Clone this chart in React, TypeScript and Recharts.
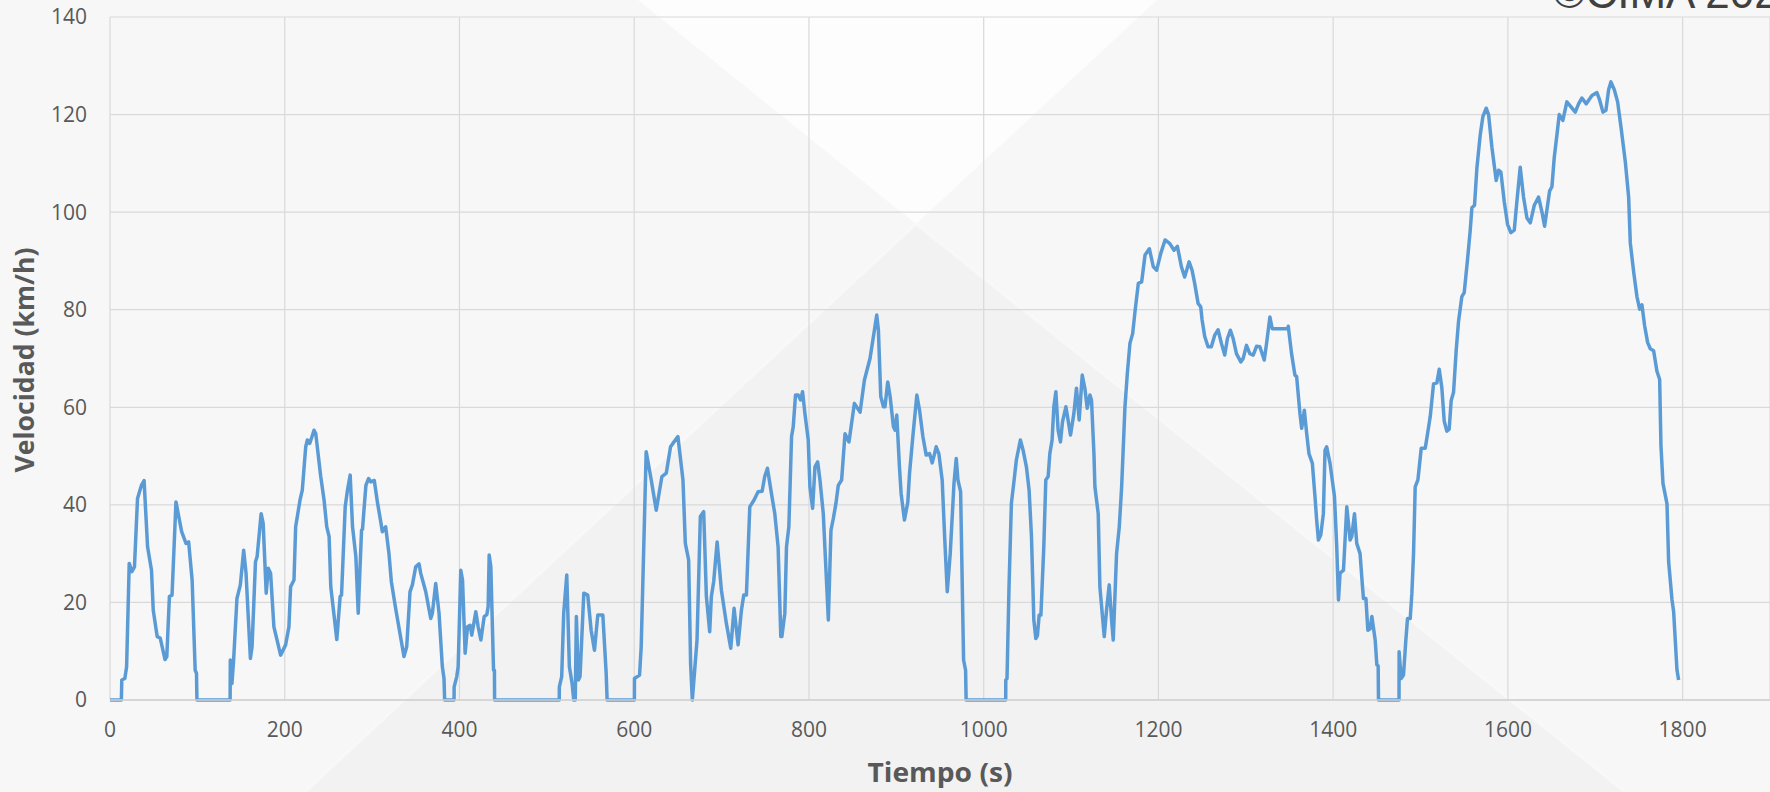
import React from "react";
import { LineChart, Line, XAxis, YAxis, CartesianGrid, Label } from "recharts";

// [tiempo (s), velocidad (km/h)], one array per WLTC phase
const lowPhase: [number, number][] = [
  [0, 0], [13, 0], [13.5, 4.1], [17, 4.4], [19, 6.8], [22, 28], [25, 26.3], [28, 27.3], [31.5, 41.3], [36, 44],
  [39, 45], [43, 31.4], [47.5, 26.6], [49.5, 18.4], [54, 13], [57.5, 12.7], [63, 8.3], [65, 8.9], [68, 21.2],
  [71, 21.5], [75.5, 40.6], [82, 34.5], [87, 32.1], [90, 32.4], [94, 24.6], [97.5, 6.1], [99, 5.5], [99.5, 0],
  [137.5, 0], [137.7, 8.2], [139.6, 3.4], [141.5, 8.2], [145.3, 20.8], [149.2, 23.6], [153, 30.7], [155.7, 26],
  [160.7, 8.5], [162.6, 10.9], [166.5, 28.3], [168.4, 29.4], [173, 38.2], [175.3, 36.2], [178.8, 21.9], [181.1, 27],
  [183.8, 26], [187.6, 15], [195.3, 9.2], [201, 11.3], [204.8, 15], [206.7, 23.2], [210.6, 24.6], [212.5, 35.5],
  [217.5, 41], [220.1, 43], [224, 51.9], [225.9, 53.3], [228.6, 52.6], [230.5, 53.6], [233.5, 55.3], [235.5, 54.6],
  [241.2, 45.8], [245, 41], [248.1, 35.5], [250.8, 33.5], [252.7, 23.2], [259.6, 12.4], [263.4, 21.2], [265, 21.5],
  [269.2, 39.6], [271.8, 43], [274.9, 46.1], [277.6, 35.5], [281.4, 29.4], [284.1, 17.8], [287.9, 34.8], [289, 35],
  [292.9, 44], [296, 45.4], [298.7, 44.7], [302.5, 45], [306.3, 40.3], [310.2, 36.2], [311.7, 34.5], [315.5, 35.5],
  [319.3, 30], [322, 24.3], [326.9, 18.8], [336.5, 8.9], [339.6, 10.9], [343.4, 22.2], [346.1, 23.6], [349.9, 27.3],
  [353.7, 27.9], [355.6, 26], [361.4, 22.2], [367.1, 16.7], [369, 17.8], [372.8, 23.9], [376.6, 17.8], [380.4, 6.8],
  [382.3, 4.4], [383, 0], [393.8, 0], [393.9, 2.7], [396.9, 4.8], [398.5, 6.8], [401.5, 26.6], [403.5, 24.6],
  [406.5, 9.6], [409.2, 15], [412.2, 15.3], [414.1, 13.3], [418.7, 18.1], [421.4, 15], [424.5, 12.3], [428.3, 17.1],
  [431.3, 17.5], [432.8, 19.1], [434, 29.7], [435.9, 27.3], [439, 6.1], [440, 6.1], [440.2, 0], [514.2, 0],
  [514.3, 2.7], [517, 4.8], [519.3, 17.8], [522.8, 25.6], [525.8, 6.8], [528.9, 3.4], [530.8, 0], [532.5, 0],
  [533.8, 17.1], [536.1, 4.1], [538, 4.8], [542.3, 21.9], [546.8, 21.5], [550.7, 14.3], [554.5, 10.2], [558.3, 17.4],
  [564.1, 17.4], [567.9, 5.5], [569, 0],
];

const mediumPhase: [number, number][] = [
  [600.2, 0], [600.3, 4.4], [606.1, 5.1], [608, 10.9], [613.7, 50.9], [619.5, 45.1], [625.2, 38.9], [631.7, 45.8],
  [636.7, 46.5], [641.6, 51.9], [644.3, 52.6], [650, 54], [655.8, 45.1], [658.5, 32.1], [662.3, 28.7], [664.6, 7.2],
  [666.5, 0], [669.2, 6.1], [671.9, 12.3], [675.7, 37.6], [679.5, 38.6], [682.6, 21.2], [686.4, 14], [688.3, 21.2],
  [691, 24.3], [694.9, 32.4], [699.8, 22.5], [705.5, 15.7], [710.5, 10.6], [714.3, 18.8], [718.9, 11.3], [722.7, 18.4],
  [725.4, 21.5], [728.4, 21.5], [732.3, 39.6], [737.2, 41], [741.8, 42.7], [746.4, 42.8], [749.4, 45.8], [752.5, 47.5],
  [757.1, 42.3], [760.9, 38.2], [764.7, 31.4], [767.8, 13], [769, 13], [772.4, 17.8], [774.3, 31.4], [777, 35.5],
  [780.1, 54], [782, 56], [784.6, 62.5], [787.7, 62.5], [790.4, 61.5], [792.7, 63.2], [795.4, 58.7], [799.2, 53.3],
  [801.1, 43.7], [804.2, 39.3], [806.9, 47.8], [810, 48.8], [812.6, 45.1], [816.4, 38.2], [822.2, 16.4], [825.2, 34.8],
  [827.9, 37.2], [830.9, 40.3], [833.6, 44], [837.4, 45.1], [841.3, 54.6], [845.8, 52.9], [852, 60.8], [858.5, 59],
  [863.5, 65.6], [869.9, 70], [877.6, 78.9], [879.5, 75.8], [882.2, 62.2], [885.3, 60.1], [887, 60.1], [890.2, 65.2],
  [892.9, 62.2], [896.7, 56], [898.6, 55.3], [900.5, 58.4], [903.6, 47.8], [905.5, 42.3], [909.3, 36.9], [913.2, 40.6],
  [915.1, 46.4], [918.9, 54], [923.5, 62.5], [926.6, 59.4], [930.4, 54], [934.2, 50.2], [938.1, 50.5], [941.1, 48.6],
  [943.8, 50.5], [945.6, 51.9], [948.7, 50.5], [952.5, 45.1], [955.3, 33.5], [958.3, 22.2], [961.7, 30], [964.8, 40.3],
  [966, 44.4], [968.6, 49.5], [970.5, 45.1], [973.6, 42.7], [975.5, 23.2], [977, 8.2], [979.3, 6.1], [979.9, 0],
];

const highPhase: [number, number][] = [
  [1025.2, 0], [1025.3, 4.1], [1026.7, 4.4], [1029, 23.2], [1031.7, 40.3], [1034.4, 44.4], [1037.4, 49.2], [1042, 53.3],
  [1045.1, 51.2], [1048.9, 47.8], [1052, 43], [1054.7, 33.5], [1057.4, 16.4], [1059.7, 12.6], [1061.5, 13.2],
  [1063.5, 17.4], [1065.5, 17.4], [1068.8, 31.4], [1071.1, 45.1], [1073.8, 45.8], [1075.7, 50.5], [1078.3, 53.3],
  [1080.3, 60.1], [1082.6, 63.2], [1085.2, 55.3], [1087.9, 52.9], [1090.2, 57], [1094.1, 60.1], [1099.4, 54.3],
  [1103.2, 58.7], [1106.2, 63.9], [1109.3, 57.4], [1112.8, 66.6], [1115.8, 63.9], [1118.5, 59.8], [1121.6, 62.5],
  [1123.4, 61.5], [1126.2, 50.5], [1127.3, 43.7], [1131.1, 38.2], [1133, 23.2], [1138, 13], [1140.6, 18.4],
  [1143.7, 23.6], [1146.4, 16.4], [1148.3, 12.3], [1152.1, 30], [1155.2, 35.5], [1157.9, 43.7], [1161.7, 60.1],
  [1164.4, 66.9], [1167.4, 73.1], [1170.5, 75.1], [1173.2, 79.6], [1177, 85.4], [1180.8, 85.7], [1184.7, 91.2],
  [1189.6, 92.5], [1194.2, 88.8], [1198, 88.1], [1202.6, 91.5], [1207.6, 94.3], [1212.8, 93.6], [1217.9, 92.2],
  [1221.7, 93], [1226.3, 88.8], [1230, 86.7], [1235.1, 89.8], [1238.5, 88.1], [1241.5, 85.4], [1245.4, 81.3],
  [1248.4, 80.6], [1250, 77.9], [1253, 74.5], [1256.8, 72.4], [1260.6, 72.4], [1264.5, 74.8], [1268.3, 75.9],
  [1272.1, 73.1], [1275.9, 70.7], [1279, 74.1], [1282.4, 75.8], [1285.5, 74.1], [1289.3, 71], [1294.3, 69.3],
  [1297, 70], [1300.8, 72.7], [1304.6, 71], [1308.5, 70.7], [1312.3, 72.5], [1316.1, 72.4], [1321.1, 69.7],
  [1323.8, 73.1], [1327.6, 78.5], [1330.3, 76.1], [1339, 76.1], [1347.9, 76.1], [1348.6, 76.6], [1352.4, 71],
  [1356.2, 66.6], [1358.2, 66.3], [1362, 58.7], [1364, 55.7], [1367, 59.4], [1369.7, 54.6], [1372.3, 50.5],
  [1376.2, 48.5], [1379.2, 41.7], [1381.1, 36.9], [1383.1, 32.8], [1385.8, 33.8], [1388.8, 38.2], [1390.7, 51.2],
  [1392.6, 51.9], [1396.4, 48.5], [1401.5, 41.7], [1404.1, 31.4], [1406.1, 20.5], [1407.9, 26], [1411.8, 26.6],
  [1415.6, 39.6], [1419.4, 32.8], [1421.3, 33.5], [1424.4, 38.2], [1427, 32.1], [1430.8, 30], [1433.6, 23.2],
  [1434.7, 20.8], [1437.5, 20.8], [1439.7, 14.3], [1442.3, 14.6], [1444.3, 17.1], [1448.1, 12.3], [1450, 7.2],
  [1451.5, 7], [1451.9, 0], [1475.4, 0],
];

const extraHighPhase: [number, number][] = [
  [1475.5, 9.9], [1477.8, 4.4], [1480.5, 5.1], [1483.2, 12.3], [1485.1, 16.7], [1488.2, 16.7], [1490.1, 21.9],
  [1492, 30], [1493.9, 43.7], [1497, 45.1], [1500.8, 51.6], [1505.4, 51.6], [1508.4, 55], [1511.1, 58.1],
  [1514.9, 64.8], [1518.7, 65], [1521.4, 67.8], [1524.4, 64], [1527.1, 57.2], [1530.1, 55.1], [1532.8, 55.5],
  [1535.1, 61.4], [1537.8, 63.1], [1540.8, 71.6], [1543.5, 77.6], [1547.3, 82.7], [1550, 83.5], [1553.8, 90.3],
  [1556.9, 96.3], [1558.8, 100.9], [1561.8, 101.4], [1564.5, 109], [1568.3, 115.8], [1571.4, 119.6], [1575.2, 121.3],
  [1577.9, 120], [1581.7, 113.3], [1586.6, 106.5], [1589.3, 108.6], [1592, 108.2], [1595.8, 102.2], [1599.6, 97.5],
  [1603.4, 95.8], [1607.3, 96.3], [1610.3, 102.2], [1614.1, 109.2], [1617.9, 103.1], [1621.8, 98.8], [1625.6, 97.8],
  [1630.2, 101.4], [1635.1, 103.1], [1638.9, 100.1], [1642, 97.1], [1644.7, 100.5], [1647.7, 104.3], [1650.4, 105.2],
  [1653, 111.1], [1656.1, 115.8], [1658.8, 120], [1662.9, 118.8], [1667.5, 122.6], [1671.3, 121.8], [1677.1, 120.5],
  [1680.9, 122.2], [1684.7, 123.4], [1689.7, 122.2], [1696.2, 123.9], [1701.9, 124.5], [1705, 123], [1708.8, 120.5],
  [1712.2, 120.9], [1715.3, 125.1], [1717.9, 126.7], [1721.8, 125.1], [1725.6, 122.6], [1729.4, 117.5],
  [1734.4, 110.3], [1738.2, 103.1], [1740.1, 93.7], [1743.9, 87.8], [1747.7, 82.7], [1750.8, 80.1], [1753.4, 81],
  [1756.5, 76.7], [1759.9, 73.3], [1763, 72], [1766.8, 71.6], [1770.6, 67.4], [1773.7, 65.7], [1775.2, 52.1],
  [1777.5, 44.4], [1782.1, 40.2], [1784, 28.3], [1787.8, 20.6], [1789.7, 18.1], [1793.5, 6.2], [1795.4, 4.1],
];

const timeTicks = [0, 200, 400, 600, 800, 1000, 1200, 1400, 1600, 1800];
const speedTicks = [0, 20, 40, 60, 80, 100, 120, 140];

const data = [...lowPhase, ...mediumPhase, ...highPhase, ...extraHighPhase].map(([t, v]) => ({ t, v }));

const W = 1770;
const H = 792;
const FONT = "'Open Sans', sans-serif";
const GREY = "#595959";

function XTitle(props: any) {
  const vb = props.viewBox || {};
  const cx = vb.width ? vb.x + vb.width / 2 : 940;
  return (
    <text x={cx} y={782} textAnchor="middle" fill={GREY} fontFamily={FONT} fontSize={26} fontWeight={700}
      textLength={145} lengthAdjust="spacingAndGlyphs">
      Tiempo (s)
    </text>
  );
}

function YTitle(props: any) {
  const vb = props.viewBox || {};
  const cy = vb.height ? vb.y + vb.height / 2 + 1.5 : 360;
  return (
    <text x={34} y={cy} transform={`rotate(-90 34 ${cy})`} textAnchor="middle" fill={GREY} fontFamily={FONT}
      fontSize={26} fontWeight={700} textLength={225} lengthAdjust="spacingAndGlyphs">
      Velocidad (km/h)
    </text>
  );
}

// faint watermark shapes behind the plot
function Backdrop() {
  return (
    <svg width={W} height={H} style={{ position: "absolute", left: 0, top: 0 }}>
      <rect width={W} height={H} fill="#f7f7f7" />
      <polygon points="638,0 1157,0 916,224" fill="#fdfdfd" />
      <polygon points="916,224 1625,792 305,792" fill="#f2f2f2" />
      <polyline points="305,792 916,224 1625,792" fill="none" stroke="#fafafa" strokeWidth={3} opacity={0.7} />
      <text x={1553} y={8} fill="#404040" fontFamily="'Liberation Sans', Arial, sans-serif" fontSize={44}>
        ©CIMA 2020
      </text>
    </svg>
  );
}

export default function App() {
  return (
    <div style={{ position: "absolute", left: 0, top: 0, width: W, height: H, overflow: "hidden" }}>
      <Backdrop />
      <div style={{ position: "absolute", left: 0, top: 0 }}>
        <LineChart width={W} height={H} data={data} margin={{ top: 17, right: 0, left: 0, bottom: 0 }}>
          <CartesianGrid stroke="#d9d9d9" strokeWidth={1.2} />
          <XAxis
            dataKey="t"
            type="number"
            domain={[0, 1900]}
            ticks={timeTicks}
            height={92}
            tickSize={0}
            tickMargin={22}
            axisLine={{ stroke: "#d0d0d0", strokeWidth: 1.5 }}
            tick={{ fill: GREY, fontSize: 21, fontFamily: FONT }}
            interval={0}
          >
            <Label content={XTitle} />
          </XAxis>
          <YAxis
            type="number"
            domain={[0, 140]}
            ticks={speedTicks}
            width={110}
            tickSize={0}
            tickMargin={23}
            axisLine={false}
            tick={{ fill: GREY, fontSize: 21, fontFamily: FONT }}
            interval={0}
          >
            <Label content={YTitle} />
          </YAxis>
          <Line
            type="linear"
            dataKey="v"
            stroke="#5b9bd5"
            strokeWidth={3.5}
            strokeLinejoin="round"
            dot={false}
            isAnimationActive={false}
          />
        </LineChart>
      </div>
    </div>
  );
}
